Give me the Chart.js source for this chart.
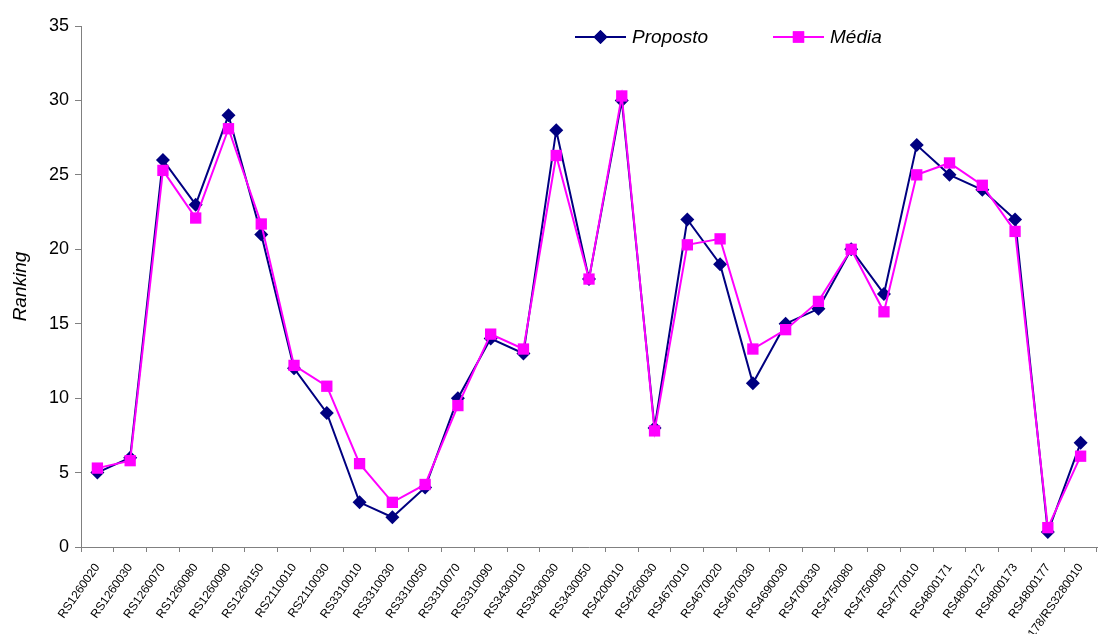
<!DOCTYPE html>
<html>
<head>
<meta charset="utf-8">
<script src="https://cdn.jsdelivr.net/npm/chart.js@4.4.1/dist/chart.umd.min.js"></script>
<style>
  html, body { margin: 0; padding: 0; background: #fff; overflow: hidden; }
  #wrap { width: 1105px; height: 634px; position: relative; }
</style>
</head>
<body>
<div id="wrap"><canvas id="rankChart"></canvas></div>
<script>
const categories = [
  'RS1260020', 'RS1260030', 'RS1260070', 'RS1260080', 'RS1260090', 'RS1260150',
  'RS2110010', 'RS2110030', 'RS3310010', 'RS3310030', 'RS3310050', 'RS3310070',
  'RS3310090', 'RS3430010', 'RS3430030', 'RS3430050', 'RS4200010', 'RS4260030',
  'RS4670010', 'RS4670020', 'RS4670030', 'RS4690030', 'RS4700330', 'RS4750080',
  'RS4750090', 'RS4770010', 'RS4800171', 'RS4800172', 'RS4800173', 'RS4800177',
  'RS4800178/RS3280010'
];

const proposto = [
  5, 6, 26, 23, 29, 21, 12, 9, 3, 2, 4, 10, 14, 13, 28, 18,
  30, 8, 22, 19, 11, 15, 16, 20, 17, 27, 25, 24, 22, 1, 7
];

const media = [
  5.3, 5.8, 25.3, 22.1, 28.1, 21.7, 12.2, 10.8, 5.6, 3.0, 4.2, 9.5, 14.3, 13.3, 26.3, 18.0,
  30.3, 7.8, 20.3, 20.7, 13.3, 14.6, 16.5, 20.0, 15.8, 25.0, 25.8, 24.3, 21.2, 1.3, 6.1
];

const NAVY = '#000080';
const MAGENTA = '#ff00ff';
const AXIS = '#808080';

// excel-style legend sitting inside the plot area
const insideLegend = {
  id: 'insideLegend',
  afterDraw(chart) {
    const { ctx, chartArea } = chart;
    const y = chartArea.top + 11;
    const items = [
      { label: 'Proposto', color: NAVY, style: 'rectRot', radius: 7, x: 575 },
      { label: 'Média', color: MAGENTA, style: 'rect', radius: 8, x: 773 }
    ];
    ctx.save();
    items.forEach((item) => {
      ctx.strokeStyle = item.color;
      ctx.lineWidth = 2;
      ctx.beginPath();
      ctx.moveTo(item.x, y);
      ctx.lineTo(item.x + 51, y);
      ctx.stroke();
      ctx.fillStyle = item.color;
      Chart.helpers.drawPoint(ctx, { pointStyle: item.style, radius: item.radius, borderWidth: 0 }, item.x + 25.5, y);
      ctx.fill();
      ctx.fillStyle = '#000';
      ctx.font = 'italic 19px "Liberation Sans", Arial, sans-serif';
      ctx.textBaseline = 'middle';
      ctx.fillText(item.label, item.x + 57, y + 1);
    });
    ctx.restore();
  }
};

new Chart(document.getElementById('rankChart'), {
  type: 'line',
  data: {
    labels: categories,
    datasets: [
      {
        label: 'Proposto',
        data: proposto,
        borderColor: NAVY,
        backgroundColor: NAVY,
        borderWidth: 2,
        pointStyle: 'rectRot',
        pointRadius: 7,
        pointBorderWidth: 0,
        tension: 0,
        order: 2
      },
      {
        label: 'Média',
        data: media,
        borderColor: MAGENTA,
        backgroundColor: MAGENTA,
        borderWidth: 2,
        pointStyle: 'rect',
        pointRadius: 8,
        pointBorderWidth: 0,
        tension: 0,
        order: 1
      }
    ]
  },
  options: {
    responsive: true,
    maintainAspectRatio: false,
    animation: false,
    layout: { padding: { top: 26, right: 1, left: 0, bottom: 0 } },
    plugins: {
      legend: { display: false },
      tooltip: { enabled: false }
    },
    scales: {
      x: {
        offset: true,
        afterFit(scale) { scale.height = 87; },
        grid: {
          offset: true,
          drawOnChartArea: false,
          drawTicks: true,
          tickLength: 5,
          color: AXIS
        },
        border: { color: AXIS, width: 1 },
        ticks: {
          autoSkip: false,
          minRotation: 55,
          maxRotation: 55,
          padding: 9,
          color: '#000',
          font: { family: '"Liberation Sans", Arial, sans-serif', size: 12 }
        }
      },
      y: {
        min: 0,
        max: 35,
        afterFit(scale) { scale.width = 81; },
        grid: {
          drawOnChartArea: false,
          drawTicks: true,
          tickLength: 6,
          color: AXIS
        },
        border: { color: AXIS, width: 1 },
        title: {
          display: true,
          text: 'Ranking',
          color: '#000',
          padding: { top: 9, bottom: 0 },
          font: { family: '"Liberation Sans", Arial, sans-serif', size: 19, style: 'italic' }
        },
        ticks: {
          stepSize: 5,
          padding: 6,
          color: '#000',
          font: { family: '"Liberation Sans", Arial, sans-serif', size: 18 }
        }
      }
    }
  },
  plugins: [insideLegend]
});
</script>
</body>
</html>
